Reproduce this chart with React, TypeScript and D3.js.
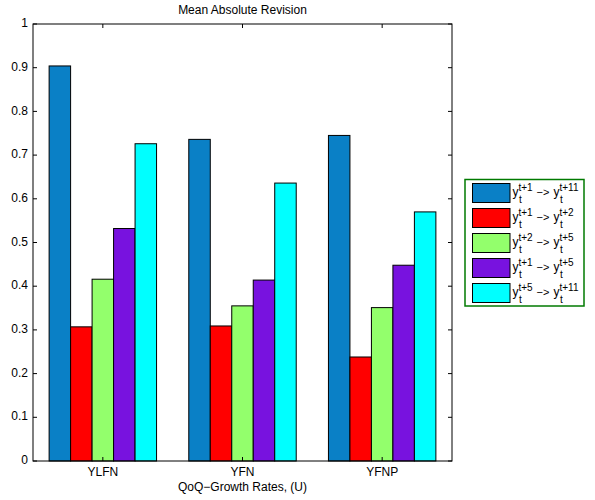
import React from "react";
import * as d3 from "d3";

const categories = ["YLFN", "YFN", "YFNP"];
const seriesNames = [
  { a: "t+1", b: "t+11" },
  { a: "t+1", b: "t+2" },
  { a: "t+2", b: "t+5" },
  { a: "t+1", b: "t+5" },
  { a: "t+5", b: "t+11" },
];
const s1 = [0.904, 0.736, 0.745];
const s2 = [0.307, 0.309, 0.238];
const s3 = [0.416, 0.355, 0.351];
const s4 = [0.532, 0.414, 0.448];
const s5 = [0.726, 0.636, 0.570];
const series = [s1, s2, s3, s4, s5];
const colors = ["#0A80C6", "#FF0000", "#93FF6C", "#7812DF", "#00FFFF"];
const yTicks = [0, 0.1, 0.2, 0.3, 0.4, 0.5, 0.6, 0.7, 0.8, 0.9, 1];

const W = 595, H = 500;
const L = 33, R = 452, T = 24, B = 461;
const FONT = "'Liberation Sans', Arial, Helvetica, sans-serif";

export default function App() {
  const x = d3.scaleLinear().domain([0.5, 3.5]).range([L, R]);
  const y = d3.scaleLinear().domain([0, 1]).range([B, T]);
  const n = series.length;
  const groupW = Math.min(0.8, n / (n + 1.5));
  const barW = groupW / n;
  const tickLen = 4;

  const legX = 465, legY = 179.5, legW = 119, legH = 126.5;
  const rowH = 25;

  return (
    <svg width={W} height={H} style={{ position: "absolute", left: 0, top: 0, background: "#fff" }} fontFamily={FONT}>
      <rect x={0} y={0} width={W} height={H} fill="#fff" />
      {/* bars */}
      {categories.map((c, ci) =>
        series.map((s, si) => {
          const x0 = x(ci + 1 - groupW / 2 + si * barW);
          const x1 = x(ci + 1 - groupW / 2 + (si + 1) * barW);
          return (
            <rect key={c + si} x={x0} y={y(s[ci])} width={x1 - x0} height={B - y(s[ci])}
              fill={colors[si]} stroke="#000" strokeWidth={1} />
          );
        })
      )}
      {/* axes box */}
      <rect x={L} y={T} width={R - L} height={B - T} fill="none" stroke="#000" strokeWidth={1} />
      {yTicks.map((t) => (
        <g key={t}>
          <line x1={L} x2={L + tickLen} y1={y(t)} y2={y(t)} stroke="#000" />
          <line x1={R} x2={R - tickLen} y1={y(t)} y2={y(t)} stroke="#000" />
          <text x={L - 5} y={y(t)} textAnchor="end" dominantBaseline="middle" fontSize={12}>{String(t)}</text>
        </g>
      ))}
      {categories.map((c, ci) => (
        <g key={c}>
          <line x1={x(ci + 1)} x2={x(ci + 1)} y1={B} y2={B - tickLen} stroke="#000" />
          <line x1={x(ci + 1)} x2={x(ci + 1)} y1={T} y2={T + tickLen} stroke="#000" />
          <text x={x(ci + 1)} y={473} textAnchor="middle" dominantBaseline="middle" fontSize={12}>{c}</text>
        </g>
      ))}
      <text x={(L + R) / 2} y={488} textAnchor="middle" dominantBaseline="middle" fontSize={12}>QoQ−Growth Rates, (U)</text>
      <text x={(L + R) / 2} y={11} textAnchor="middle" dominantBaseline="middle" fontSize={12}>Mean Absolute Revision</text>

      {/* legend */}
      <rect x={legX} y={legY} width={legW} height={legH} fill="#fff" stroke="#007A00" strokeWidth={1.5} />
      {seriesNames.map((s, i) => {
        const cy = 193 + i * rowH;
        return (
          <g key={i} fontSize={12}>
            <rect x={472.5} y={cy - 9.5} width={37.5} height={19} fill={colors[i]} stroke="#000" strokeWidth={1} />
            <text x={512.5} y={cy + 3}>y</text>
            <text x={518.5} y={cy - 2} fontSize={10}>{s.a}</text>
            <text x={519} y={cy + 9.5} fontSize={10}>t</text>
            <text x={536.5} y={cy + 3} fontSize={11}>−&gt;</text>
            <text x={553.5} y={cy + 3}>y</text>
            <text x={559.5} y={cy - 2} fontSize={10}>{s.b}</text>
            <text x={560} y={cy + 9.5} fontSize={10}>t</text>
          </g>
        );
      })}
    </svg>
  );
}
